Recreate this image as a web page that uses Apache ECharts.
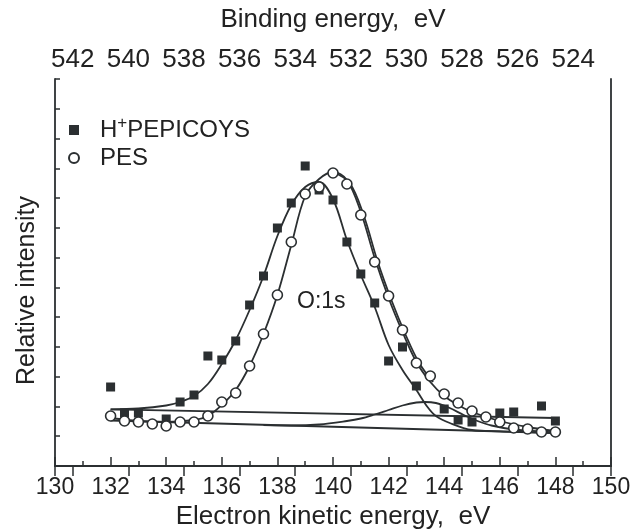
<!DOCTYPE html>
<html><head><meta charset="utf-8">
<script src="https://cdn.jsdelivr.net/npm/echarts@6/dist/echarts.min.js"></script>
<style>html,body{margin:0;padding:0;background:#fff}#c{width:634px;height:530px}</style>
</head><body><div id="c"></div>
<script>
// photon energy linking kinetic (bottom) and binding (top) energy scales
const PHOTON = 672.64;

// H+PEPICOYS data (kinetic energy, relative intensity)
const sqKE  = [132,132.5,133,134,134.5,135,135.5,136,136.5,137,137.5,138,138.5,139,139.5,140,140.5,141,141.5,142,142.5,143,144,144.5,145,146,146.5,147.5,148];
const sqVal = [79,53,53,47,64,71,110,106,125,161,190,238,263,300,276,266,224,192,163,105,119,80,57,46,44,53,54,60,45];

// PES data
const ciKE  = [132,132.5,133,133.5,134,134.5,135,135.5,136,136.5,137,137.5,138,138.5,139,139.5,140,140.5,141,141.5,142,142.5,143,143.5,144,144.5,145,145.5,146,146.5,147,147.5,148];
const ciVal = [50,45,44,42,40,44,44,50,64,73,100,132,171,224,272,279,293,282,251,204,170,136,103,90,72,63,55,49,44,38,37,34,34];

// fitted curves
const sqFitKE  = [132,133,134,134.5,135,135.5,136,136.5,137,137.5,138,138.5,139,139.5,140,140.5,141,141.5,142,142.5,143,143.4,143.7,144.2,145,146,147,148];
const sqFitVal = [56.7,57.5,60.5,64,70,82,102,126,156,190,230,261,279,284,267,226,191,159,121,96,76,59,50,43,36,34.6,33.8,33];
const ciFitKE  = [132,133,134,135,135.5,136,136.5,137,137.5,138,138.5,139,139.5,140,140.5,141,141.5,142,142.5,143,143.5,144,144.5,145,146,147,148];
const ciFitVal = [48,45,44,46,50,61,76,100,132,171,221,270,287,294,286,254,208,168,134,104,84,70,61,54,45,39,35];
const ciFit2KE  = [140,140.6,141.1,141.6,142.1,142.6,143.1,143.6];
const ciFit2Val = [294,283,251,205,166,132,103,84];
const bgUpKE  = [132,148];
const bgUpVal = [56.7,48];
const bgLoKE  = [132,148];
const bgLoVal = [45.5,33];
const humpKE  = [137.5,138.5,139.5,140.5,141,141.5,142,142.5,143,143.3,143.7,144.2,144.7,145.2,145.7,146.5,147.5,148];
const humpVal = [40.8,40.5,41.5,45,47.5,51.5,56,60.5,63.5,64,63,58,51,45,40.5,36.5,34.5,33.5];

const INK = '#2b2f31';
const FONT = 'Liberation Sans';
const zip = (a,b)=>a.map((x,i)=>[x,b[i]]);

const chart = echarts.init(document.getElementById('c'));
const lineS = (ke,val)=>({type:'line',xAxisIndex:0,yAxisIndex:0,data:zip(ke,val),smooth:0.35,showSymbol:false,symbol:'none',
  lineStyle:{color:INK,width:1.8},z:2,silent:true});
chart.setOption({
  animation:false,
  backgroundColor:'#fff',
  textStyle:{fontFamily:FONT,color:'#222'},
  grid:{left:55,right:23,top:79,bottom:64,containLabel:false,outerBoundsMode:'none'},
  legend:{
    data:['H+PEPICOYS','PES'],orient:'vertical',left:63,top:110,itemWidth:10,itemHeight:10,itemGap:4,selectedMode:false,
    formatter:(n)=> n==='PES' ? '{sp|}{a|PES}' : '{sp|}{a|H}{sup|+}{a|PEPICOYS}',
    textStyle:{fontFamily:FONT,fontSize:24,color:'#222',
      rich:{sp:{width:16},a:{fontSize:24,fontFamily:FONT,color:'#222'},sup:{fontSize:17,fontFamily:FONT,color:'#222',padding:[0,0,13,0]}}}
  },
  xAxis:[{
    type:'value',position:'bottom',min:130,max:150,interval:2,
    axisLine:{lineStyle:{color:INK,width:1.8}},
    axisTick:{inside:true,length:9,lineStyle:{color:INK,width:1.5}},
    minorTick:{show:true,splitNumber:2,length:5,lineStyle:{color:INK,width:1.5}},
    axisLabel:{fontSize:23,margin:10,color:'#222',fontFamily:FONT},
    splitLine:{show:false},
    name:'Electron kinetic energy,  eV',nameLocation:'middle',nameGap:37,
    nameTextStyle:{fontSize:26,color:'#222',fontFamily:FONT}
  },{
    type:'value',position:'top',min:PHOTON-150,max:PHOTON-130,inverse:true,splitNumber:10,
    axisLine:{lineStyle:{color:INK,width:1.8}},
    axisTick:{inside:true,length:10,lineStyle:{color:INK,width:1.5}},
    axisLabel:{fontSize:26,margin:6,color:'#222',fontFamily:FONT,
      formatter:(v)=>{const r=Math.round(v);return (Math.abs(v-r)<1e-6 && r%2===0)? String(r):'';}},
    splitLine:{show:false},
    name:'Binding energy,  eV',nameLocation:'middle',nameGap:46,
    nameTextStyle:{fontSize:26,color:'#222',fontFamily:FONT}
  }],
  yAxis:[{
    type:'value',position:'left',min:0,max:387,interval:387/13,
    axisLine:{show:true,lineStyle:{color:INK,width:1.8}},
    axisTick:{show:true,inside:true,length:5,lineStyle:{color:INK,width:1.5}},
    axisLabel:{show:false},splitLine:{show:false},
    name:'Relative intensity',nameLocation:'middle',nameGap:15,
    nameTextStyle:{fontSize:25,color:'#222',fontFamily:FONT,padding:[0,36,0,0]}
  },{
    type:'value',position:'right',min:0,max:387,
    axisLine:{show:true,lineStyle:{color:INK,width:1.8}},
    axisTick:{show:false},axisLabel:{show:false},splitLine:{show:false}
  }],
  graphic:[{type:'text',left:297,top:290,style:{text:'O:1s',fontSize:23,fontFamily:FONT,fill:'#222'}}],
  series:[
    lineS(bgUpKE,bgUpVal),
    lineS(bgLoKE,bgLoVal),
    lineS(humpKE,humpVal),
    lineS(sqFitKE,sqFitVal),
    lineS(ciFitKE,ciFitVal),
    lineS(ciFit2KE,ciFit2Val),
    {name:'H+PEPICOYS',type:'scatter',data:zip(sqKE,sqVal),symbol:'rect',symbolSize:9,
      itemStyle:{color:INK,opacity:1},z:4},
    {name:'PES',type:'scatter',data:zip(ciKE,ciVal),symbol:'circle',symbolSize:10,
      itemStyle:{color:'#fff',borderColor:INK,borderWidth:1.6,opacity:1},z:5}
  ]
});
</script></body></html>
